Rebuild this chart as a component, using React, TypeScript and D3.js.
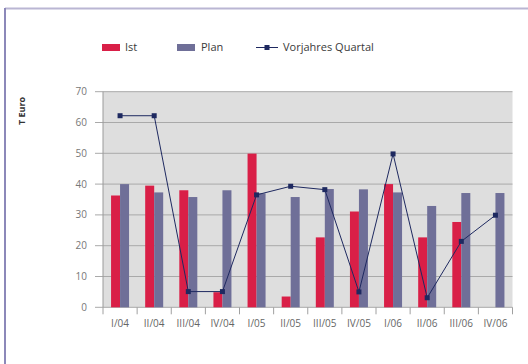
import React from "react";
import * as d3 from "d3";

// Quarter labels along the x axis
const quarters = ["I/04", "II/04", "III/04", "IV/04", "I/05", "II/05", "III/05", "IV/05", "I/06", "II/06", "III/06", "IV/06"];
// Actual values (T Euro); IV/06 has no actual yet
const ist: (number | null)[] = [36.3, 39.5, 38.0, 4.9, 49.9, 3.5, 22.7, 31.1, 40.0, 22.7, 27.7, null];
// Planned values (T Euro)
const plan = [40.0, 37.3, 35.8, 38.0, 37.0, 35.8, 38.4, 38.3, 37.3, 32.9, 37.1, 37.1];
// Same quarter of the previous year (T Euro)
const vorjahr = [62.2, 62.2, 5.1, 5.1, 36.5, 39.3, 38.2, 5.0, 49.8, 3.1, 21.4, 29.9];
const yTicks = [0, 10, 20, 30, 40, 50, 60, 70];

const W = 528;
const H = 364;
const plot = { left: 103, right: 512.5, top: 91.7, bottom: 307.3 };

const RED = "#d91f47";
const PLAN = "#6f6f98";
const LINE = "#1e2960";
const FONT = "'Open Sans', 'DejaVu Sans', sans-serif";

export default function App() {
  const x = d3.scaleBand<string>().domain(quarters).range([plot.left, plot.right]).paddingInner(0).paddingOuter(0);
  const y = d3.scaleLinear().domain([0, 70]).range([plot.bottom, plot.top]);
  const bw = 9;
  const center = (q: string) => (x(q) as number) + x.bandwidth() / 2;

  const line = d3
    .line<number>()
    .x((_, i) => center(quarters[i]))
    .y((d) => y(d));

  return (
    <svg width={W} height={H} style={{ position: "absolute", left: 0, top: 0, background: "#fff" }}>
      {/* frame */}
      <line x1={5} y1={8.5} x2={W} y2={8.5} stroke="#bab6d3" strokeWidth={2} />
      <line x1={5} y1={8} x2={5} y2={H} stroke="#8c88b9" strokeWidth={2} />

      {/* legend */}
      <g fontFamily={FONT} fontSize={11} fill="#3a3a3a">
        <rect x={102} y={44} width={18} height={7} fill={RED} />
        <text x={125} y={51}>Ist</text>
        <rect x={177} y={44} width={18} height={7} fill={PLAN} />
        <text x={201} y={51}>Plan</text>
        <line x1={256} y1={47.5} x2={278} y2={47.5} stroke={LINE} strokeWidth={1} />
        <rect x={264.5} y={45} width={5} height={5} fill={LINE} />
        <text x={283} y={51}>Vorjahres Quartal</text>
      </g>

      {/* axis title */}
      <text
        transform={`translate(25,111) rotate(-90)`}
        textAnchor="middle"
        fontFamily={FONT}
        fontSize={9}
        fontWeight="bold"
        fill="#333"
      >
        T Euro
      </text>

      {/* plot background */}
      <rect x={plot.left} y={plot.top} width={plot.right - plot.left} height={plot.bottom - plot.top} fill="#dedede" />

      {/* gridlines and y ticks */}
      {yTicks.map((t) => (
        <g key={t}>
          <line x1={plot.left - 8} x2={plot.right} y1={y(t)} y2={y(t)} stroke="#a9a9a9" strokeWidth={1} />
          <text x={87} y={y(t) + 3.5} textAnchor="end" fontFamily={FONT} fontSize={10} fill="#777">
            {t}
          </text>
        </g>
      ))}

      {/* y axis */}
      <line x1={plot.left} x2={plot.left} y1={plot.top} y2={plot.bottom} stroke="#9a9a9a" strokeWidth={1} />

      {/* x ticks and labels */}
      {[...quarters.map((q) => x(q) as number), plot.right].map((px, i) => (
        <line key={i} x1={px} x2={px} y1={plot.bottom} y2={plot.bottom + 7} stroke="#a0a0a0" strokeWidth={1} />
      ))}
      {quarters.map((q) => (
        <text key={q} x={center(q)} y={327} textAnchor="middle" fontFamily={FONT} fontSize={10} fill="#666">
          {q}
        </text>
      ))}

      {/* bars */}
      {quarters.map((q, i) => (
        <g key={q}>
          {ist[i] != null && (
            <rect x={center(q) - bw} y={y(ist[i] as number)} width={bw} height={y(0) - y(ist[i] as number)} fill={RED} />
          )}
          <rect x={center(q)} y={y(plan[i])} width={bw} height={y(0) - y(plan[i])} fill={PLAN} />
        </g>
      ))}

      {/* previous-year line */}
      <path d={line(vorjahr) ?? ""} fill="none" stroke={LINE} strokeWidth={1} />
      {vorjahr.map((v, i) => (
        <rect key={i} x={center(quarters[i]) - 2.5} y={y(v) - 2.5} width={5} height={5} fill={LINE} />
      ))}
    </svg>
  );
}
